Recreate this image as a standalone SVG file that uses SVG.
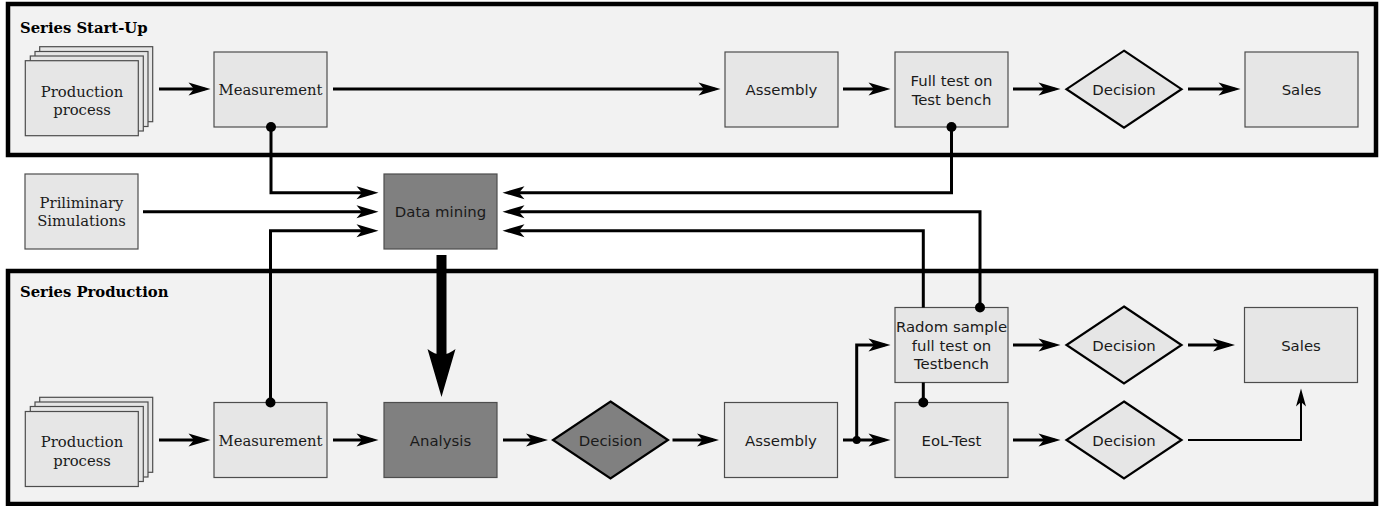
<svg xmlns="http://www.w3.org/2000/svg" width="1386" height="506" viewBox="0 0 1386 506">
<style>
.cont{fill:#f2f2f2;stroke:#000;stroke-width:4.5}
.title{font-family:"DejaVu Serif",serif;font-weight:bold;font-size:14.8px;fill:#000}
.box{fill:#e6e6e6;stroke:#4d4d4d;stroke-width:1.2}
.dark{fill:#808080;stroke:#4d4d4d;stroke-width:1.2}
.dia{fill:#e6e6e6;stroke:#000;stroke-width:2.2}
.diad{fill:#808080;stroke:#000;stroke-width:2.2}
.serif{font-family:"DejaVu Serif",serif;font-size:14.8px;fill:#1a1a1a;text-anchor:middle}
.sans{font-family:"DejaVu Sans",sans-serif;font-size:14.9px;fill:#1a1a1a;text-anchor:middle}
.c{fill:none;stroke:#000;stroke-width:3}
.c2{fill:none;stroke:#000;stroke-width:2}
.dot{fill:#000}
</style>
<defs>
<marker id="ah" markerUnits="userSpaceOnUse" viewBox="-20 -10 30 20" refX="0" refY="0" markerWidth="30" markerHeight="20" orient="auto" overflow="visible">
<path d="M6,0 L-16,-6.5 L-10.5,0 L-16,6.5 Z" fill="#000"/>
</marker>
<marker id="ahs" markerUnits="userSpaceOnUse" viewBox="-20 -10 30 20" refX="0" refY="0" markerWidth="30" markerHeight="20" orient="auto" overflow="visible">
<path d="M5,0 L-13,-5 L-8.5,0 L-13,5 Z" fill="#000"/>
</marker>
</defs>
<rect width="1386" height="506" fill="#fff"/>
<g id="startup">
<rect class="cont" x="8" y="4" width="1368" height="151"/>
<text class="title" x="20" y="33">Series Start-Up</text>
</g>
<g id="production">
<rect class="cont" x="8" y="271" width="1368" height="233"/>
<text class="title" x="20" y="297">Series Production</text>
</g>
<g id="prod1">
<rect class="box" x="39.7" y="46.7" width="113" height="75"/>
<rect class="box" x="35" y="51.5" width="113" height="75"/>
<rect class="box" x="30.3" y="56" width="113" height="75"/>
<rect class="box" x="25.3" y="60.7" width="113" height="75"/>
<text class="serif" x="82" y="96.5">Production</text>
<text class="serif" x="82" y="114.5">process</text>
</g>
<g id="meas1">
<rect class="box" x="214" y="52" width="113" height="75"/>
<text class="serif" x="270.5" y="95">Measurement</text>
</g>
<g id="asm1">
<rect class="box" x="725" y="52" width="113" height="75"/>
<text class="sans" x="781.5" y="95">Assembly</text>
</g>
<g id="fulltest">
<rect class="box" x="895" y="52" width="113" height="75"/>
<text class="sans" x="951.5" y="86">Full test on</text>
<text class="sans" x="951.5" y="104.5">Test bench</text>
</g>
<g id="dec1">
<polygon class="dia" points="1124,50.7 1181.5,89.2 1124,127.7 1066.5,89.2"/>
<text class="sans" x="1124" y="95">Decision</text>
</g>
<g id="sales1">
<rect class="box" x="1245" y="52" width="113" height="75"/>
<text class="sans" x="1301.5" y="95">Sales</text>
</g>
<g id="sim">
<rect class="box" x="25" y="174" width="113" height="75"/>
<text class="serif" x="81.5" y="207.5">Priliminary</text>
<text class="serif" x="81.5" y="226">Simulations</text>
</g>
<g id="datamining">
<rect class="dark" x="384" y="174" width="113" height="75"/>
<text class="sans" x="440.5" y="217">Data mining</text>
</g>
<g id="prod2">
<rect class="box" x="39.7" y="397.3" width="113" height="75"/>
<rect class="box" x="35" y="402" width="113" height="75"/>
<rect class="box" x="30.3" y="406.5" width="113" height="75"/>
<rect class="box" x="25.3" y="411.5" width="113" height="75"/>
<text class="serif" x="82" y="447">Production</text>
<text class="serif" x="82" y="465.5">process</text>
</g>
<g id="meas2">
<rect class="box" x="214" y="402.5" width="113" height="75"/>
<text class="serif" x="270.5" y="445.5">Measurement</text>
</g>
<g id="analysis">
<rect class="dark" x="384" y="402.5" width="113" height="75"/>
<text class="sans" x="440.5" y="445.5">Analysis</text>
</g>
<g id="dec2">
<polygon class="diad" points="610.5,401.5 668,440 610.5,478.5 553,440"/>
<text class="sans" x="610.5" y="445.5">Decision</text>
</g>
<g id="asm2">
<rect class="box" x="724.5" y="402.5" width="113" height="75"/>
<text class="sans" x="781" y="445.5">Assembly</text>
</g>
<g id="radom">
<rect class="box" x="895" y="307.5" width="113" height="75"/>
<text class="sans" x="951.5" y="332">Radom sample</text>
<text class="sans" x="951.5" y="350.5">full test on</text>
<text class="sans" x="951.5" y="369">Testbench</text>
</g>
<g id="eol">
<rect class="box" x="895" y="402.5" width="113" height="75"/>
<text class="sans" x="951.5" y="445.5">EoL-Test</text>
</g>
<g id="dec3">
<polygon class="dia" points="1124,306.5 1181.5,345 1124,383.5 1066.5,345"/>
<text class="sans" x="1124" y="350.5">Decision</text>
</g>
<g id="dec4">
<polygon class="dia" points="1124,401.5 1181.5,440 1124,478.5 1066.5,440"/>
<text class="sans" x="1124" y="445.5">Decision</text>
</g>
<g id="sales2">
<rect class="box" x="1244.5" y="307.5" width="113" height="75"/>
<text class="sans" x="1301" y="350.5">Sales</text>
</g>
<g id="connectors">
<path class="c" d="M159,89 H204.5" marker-end="url(#ah)"/>
<path class="c" d="M333,89 H714.5" marker-end="url(#ah)"/>
<path class="c" d="M843,89 H884.5" marker-end="url(#ah)"/>
<path class="c" d="M1013,89 H1054.5" marker-end="url(#ah)"/>
<path class="c" d="M1188,89 H1234.5" marker-end="url(#ah)"/>
<path class="c" d="M271,127 V192.7 H372.5" marker-end="url(#ah)"/>
<path class="c" d="M143,211.7 H372.5" marker-end="url(#ah)"/>
<path class="c" d="M270.5,402 V230.7 H372.5" marker-end="url(#ah)"/>
<path class="c" d="M951.5,127 V192.7 H508.5" marker-end="url(#ah)"/>
<path class="c" d="M980,307.5 V211.7 H508.5" marker-end="url(#ah)"/>
<path class="c" d="M923.3,307.5 V230.7 H508.5" marker-end="url(#ah)"/>
<path class="c" d="M923.3,402 V382.5"/>
<circle class="dot" cx="271" cy="127" r="5"/>
<circle class="dot" cx="951.5" cy="127" r="5"/>
<circle class="dot" cx="270.5" cy="402.5" r="5"/>
<circle class="dot" cx="980" cy="307.5" r="5"/>
<circle class="dot" cx="923.3" cy="402.5" r="5"/>
<rect x="436.5" y="255" width="10" height="108" fill="#000"/>
<path d="M441.5,397 L427.5,349 Q441.5,360 455.5,349 Z" fill="#000"/>
<path class="c" d="M159,440 H204.5" marker-end="url(#ah)"/>
<path class="c" d="M333,440 H372.5" marker-end="url(#ah)"/>
<path class="c" d="M503,440 H542" marker-end="url(#ah)"/>
<path class="c" d="M672.5,440 H713" marker-end="url(#ah)"/>
<path class="c" d="M843,440 H884.5" marker-end="url(#ah)"/>
<path class="c" d="M856.7,440 V345 H884.5" marker-end="url(#ah)"/>
<circle class="dot" cx="856.7" cy="440" r="4"/>
<path class="c" d="M1013,345 H1054.5" marker-end="url(#ah)"/>
<path class="c" d="M1188,345 H1229" marker-end="url(#ah)"/>
<path class="c" d="M1013,440 H1054.5" marker-end="url(#ah)"/>
<path class="c2" d="M1188,440 H1301 V393.5" marker-end="url(#ahs)"/>
</g>
</svg>
